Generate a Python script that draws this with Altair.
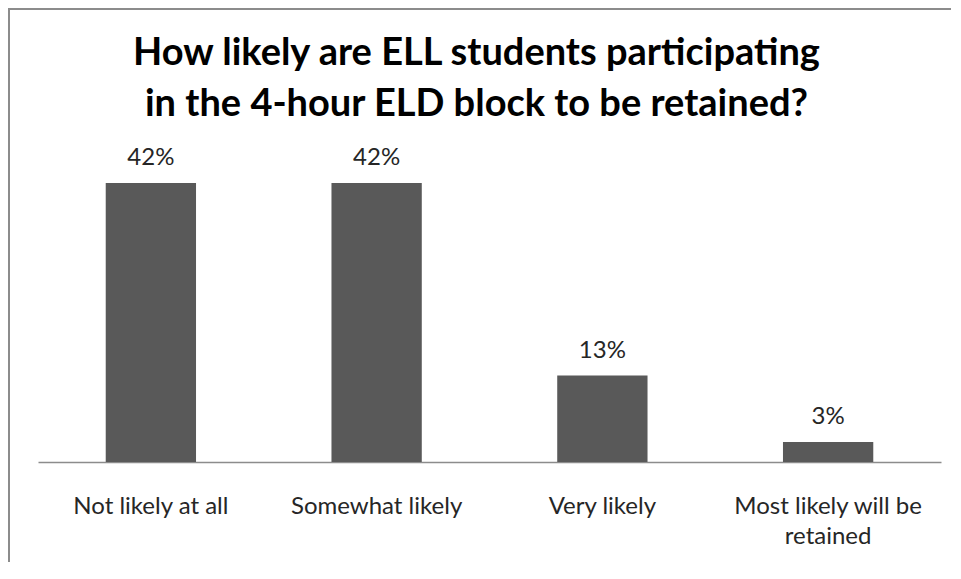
import altair as alt
import pandas as pd

categories = ["Not likely at all", "Somewhat likely", "Very likely", "Most likely will be retained"]
values = [42, 42, 13, 3]
labels = ["42%", "42%", "13%", "3%"]
title_lines = ["How likely are ELL students participating", "in the 4-hour ELD block to be retained?"]

df = pd.DataFrame({"category": categories, "value": values, "label": labels})

FONT = "Lato"

xenc = alt.X(
    "category:N",
    sort=categories,
    title=None,
    scale=alt.Scale(paddingInner=0.6, paddingOuter=0.3),
    axis=alt.Axis(
        labelAngle=0,
        ticks=False,
        domainColor="#8c8c8c",
        domainWidth=1.5,
        labelFont=FONT,
        labelFontSize=24,
        labelColor="#262626",
        labelPadding=32,
        labelLimit=0,
        labelLineHeight=30,
        labelExpr="datum.label == 'Most likely will be retained' ? ['Most likely will be', 'retained'] : datum.label",
    ),
)
yenc = alt.Y("value:Q", scale=alt.Scale(domain=[0, 45]), axis=None)

bars = alt.Chart(df).mark_bar(color="#595959").encode(x=xenc, y=yenc)
text = alt.Chart(df).mark_text(
    dy=-18, baseline="alphabetic", font=FONT, fontSize=24, color="#262626"
).encode(x=alt.X("category:N", sort=categories), y=yenc, text="label:N")

frame_df = pd.DataFrame({"k": [0]})
left_rule = alt.Chart(frame_df).mark_rule(color="#8c8c8c", strokeWidth=2).encode(
    x=alt.value(-29), y=alt.value(-154), y2=alt.value(420)
)
top_rule = alt.Chart(frame_df).mark_rule(color="#8c8c8c", strokeWidth=2).encode(
    x=alt.value(-30), x2=alt.value(930), y=alt.value(-154)
)

chart = (
    alt.layer(bars, text, left_rule, top_rule)
    .properties(
        width=903,
        height=299,
        padding={"left": 30, "top": 155, "right": 10, "bottom": 100},
        autosize=alt.AutoSizeParams(type="none"),
        background="white",
        title=alt.Title(
            title_lines,
            font=FONT,
            fontSize=38,
            fontWeight="bold",
            color="black",
            lineHeight=51,
            baseline="alphabetic",
            offset=-146,
            dx=-13,
            anchor="middle",
        ),
    )
    .configure_view(stroke=None)
)

chart.save("out.html", embed_options={"renderer": "svg", "actions": False})
